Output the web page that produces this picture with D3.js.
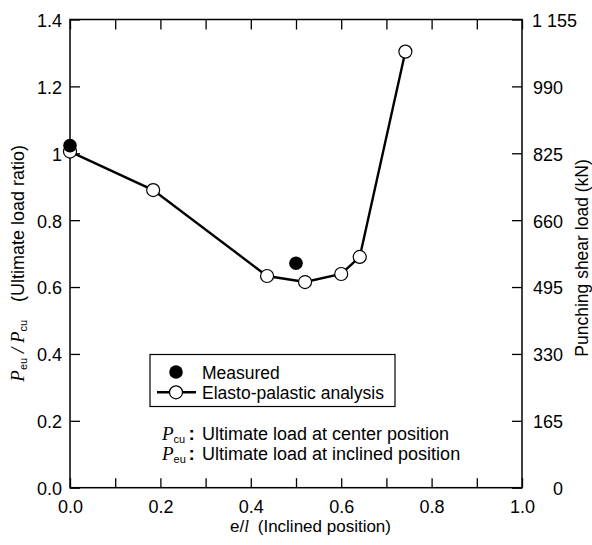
<!DOCTYPE html>
<html>
<head>
<meta charset="utf-8">
<script src="https://cdn.jsdelivr.net/npm/d3@7"></script>
<style>
  html, body { margin: 0; padding: 0; background: #fff; }
  svg { display: block; }
  text { font-family: "Liberation Sans", Arial, sans-serif; fill: #000; }
</style>
</head>
<body>
<svg id="chart" width="592" height="545"></svg>
<script>
// ---- data ----
const analysisX = [0, 0.184, 0.436, 0.52, 0.6, 0.641, 0.742];
const analysisY = [1.005, 0.89, 0.633, 0.615, 0.639, 0.69, 1.304];
const measuredX = [0, 0.5];
const measuredY = [1.023, 0.671];

const xTickValues = [0, 0.2, 0.4, 0.6, 0.8, 1.0];
const xTickLabels = ["0.0", "0.2", "0.4", "0.6", "0.8", "1.0"];
const xMinorValues = [0, 0.1, 0.2, 0.3, 0.4, 0.5, 0.6, 0.7, 0.8, 0.9, 1.0];
const yTickValues = [0, 0.2, 0.4, 0.6, 0.8, 1.0, 1.2, 1.4];
const yTickLabels = ["0.0", "0.2", "0.4", "0.6", "0.8", "1", "1.2", "1.4"];
const yRightValues = [0, 165, 330, 495, 660, 825, 990, 1155];
const yRightLabels = ["0", "165", "330", "495", "660", "825", "990", "1 155"];

const legendLabels = ["Measured", "Elasto-palastic analysis"];
const noteLabels = [["cu", "Ultimate load at center position"], ["eu", "Ultimate load at inclined position"]];

// ---- layout ----
const L = 70, R = 522, T = 19.5, B = 487.7;
const svg = d3.select("#chart");
const x = d3.scaleLinear().domain([0, 1]).range([L, R]);
const y = d3.scaleLinear().domain([0, 1.4]).range([B, T]);
const yR = d3.scaleLinear().domain([0, 1155]).range([B, T]);

const FS = 18;

// bottom axis (ticks every 0.1, labels at 0.2)
const gB = svg.append("g").attr("transform", `translate(0,${B})`)
  .call(d3.axisBottom(x).tickValues(xMinorValues).tickSizeInner(-9.5).tickSizeOuter(0).tickPadding(12.5)
    .tickFormat(d => { const i = xTickValues.findIndex(v => Math.abs(v - d) < 1e-9); return i >= 0 ? xTickLabels[i] : ""; }));
// top axis
const gT = svg.append("g").attr("transform", `translate(0,${T})`)
  .call(d3.axisTop(x).tickValues(xMinorValues).tickSizeInner(-10).tickSizeOuter(0).tickFormat(""));
// left axis
const gL = svg.append("g").attr("transform", `translate(${L},0)`)
  .call(d3.axisLeft(y).tickValues(yTickValues).tickSizeInner(-10).tickSizeOuter(0).tickPadding(8)
    .tickFormat((d, i) => yTickLabels[i]));
// right axis
const gR = svg.append("g").attr("transform", `translate(${R},0)`)
  .call(d3.axisRight(yR).tickValues(yRightValues).tickSizeInner(-10).tickSizeOuter(0).tickPadding(10)
    .tickFormat((d, i) => yRightLabels[i]));

[gB, gT, gL, gR].forEach(g => {
  g.select(".domain").remove();
  g.selectAll(".tick line").attr("stroke", "#000").attr("stroke-width", 1.3);
  g.selectAll(".tick text").attr("font-size", FS).attr("font-family", "Liberation Sans, Arial, sans-serif").attr("fill", "#000");
});
gL.selectAll(".tick text").attr("dy", "0.38em");
gR.selectAll(".tick text").attr("dy", "0.38em")
  .each(function() {
    const t = d3.select(this);
    if (t.text().length <= 3) t.attr("text-anchor", "end").attr("x", 41);
  });

// frame
svg.append("rect").attr("x", L).attr("y", T).attr("width", R - L).attr("height", B - T)
  .attr("fill", "none").attr("stroke", "#000").attr("stroke-width", 1.5);

// analysis line
const pts = analysisX.map((v, i) => [v, analysisY[i]]);
svg.append("path").datum(pts)
  .attr("d", d3.line().x(d => x(d[0])).y(d => y(d[1])))
  .attr("fill", "none").attr("stroke", "#000").attr("stroke-width", 2.4);
svg.append("g").selectAll("circle").data(pts).join("circle")
  .attr("cx", d => x(d[0])).attr("cy", d => y(d[1])).attr("r", 6.5)
  .attr("fill", "#fff").attr("stroke", "#000").attr("stroke-width", 1.2);
// measured points
svg.append("g").selectAll("circle").data(measuredX.map((v, i) => [v, measuredY[i]])).join("circle")
  .attr("cx", d => x(d[0])).attr("cy", d => y(d[1])).attr("r", 6.8)
  .attr("fill", "#000");

// legend
const lg = svg.append("g");
lg.append("rect").attr("x", 150).attr("y", 354.5).attr("width", 245).attr("height", 52)
  .attr("fill", "#fff").attr("stroke", "#000").attr("stroke-width", 1.2);
lg.append("circle").attr("cx", 176).attr("cy", 372).attr("r", 6.8).attr("fill", "#000");
lg.append("line").attr("x1", 157).attr("x2", 196).attr("y1", 392.3).attr("y2", 392.3)
  .attr("stroke", "#000").attr("stroke-width", 2.4);
lg.append("circle").attr("cx", 176).attr("cy", 392.3).attr("r", 6.5)
  .attr("fill", "#fff").attr("stroke", "#000").attr("stroke-width", 1.2);
lg.append("text").attr("x", 202).attr("y", 379).attr("font-size", 17.5).text(legendLabels[0]);
lg.append("text").attr("x", 202).attr("y", 398.5).attr("font-size", 17.5).text(legendLabels[1]);

// notes
noteLabels.forEach((n, i) => {
  const by = 439.5 + i * 20.5;
  const t = svg.append("text").attr("x", 162).attr("y", by);
  t.append("tspan").attr("font-family", "Liberation Serif, Times New Roman, serif").attr("font-style", "italic")
    .attr("font-size", 19).text("P");
  t.append("tspan").attr("font-size", 11).attr("dy", 3).text(n[0]);
  svg.append("text").attr("x", 188.5).attr("y", by).attr("font-size", 19).attr("font-weight", "bold").text(":");
  svg.append("text").attr("x", 202).attr("y", by).attr("font-size", 18).text(n[1]);
});

// x title
const xt = svg.append("text").attr("x", 230).attr("y", 532).attr("font-size", 17);
xt.append("tspan").text("e/");
xt.append("tspan").attr("font-family", "Liberation Serif, Times New Roman, serif").attr("font-style", "italic").text("l");
svg.append("text").attr("x", 391).attr("y", 532).attr("font-size", 17).attr("text-anchor", "end").text("(Inclined position)");

// left y title
const gl = svg.append("g").attr("transform", "translate(24,381.7) rotate(-90)");
const lt = gl.append("text").attr("x", 0).attr("y", 0);
lt.append("tspan").attr("font-family", "Liberation Serif, Times New Roman, serif").attr("font-style", "italic").attr("font-size", 19).text("P");
lt.append("tspan").attr("font-size", 11).attr("dy", 3).text("eu");
lt.append("tspan").attr("font-family", "Liberation Serif, Times New Roman, serif").attr("font-style", "italic").attr("font-size", 19).attr("dy", -3).text(" / P");
lt.append("tspan").attr("font-size", 11).attr("dy", 3).text("cu");
gl.append("text").attr("x", 236.7).attr("y", 0).attr("font-size", 18).attr("text-anchor", "end").text("(Ultimate load ratio)");

// right y title
svg.append("g").attr("transform", "translate(588,356.7) rotate(-90)")
  .append("text").attr("x", 0).attr("y", 0).attr("font-size", 17.5).text("Punching shear load (kN)");
</script>
</body>
</html>
